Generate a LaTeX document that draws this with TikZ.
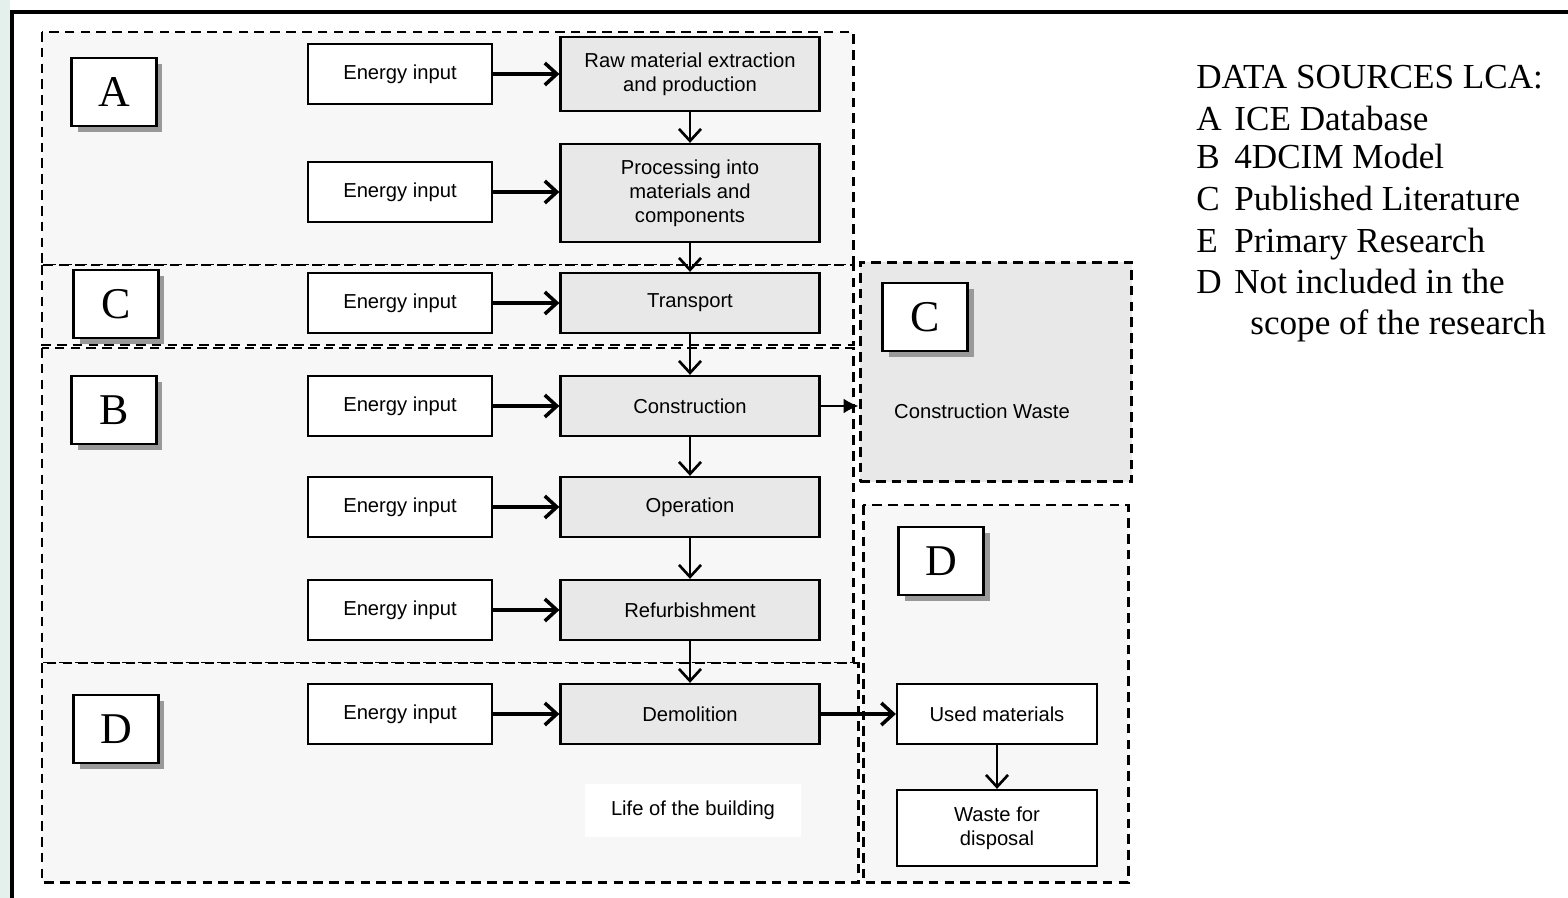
\documentclass[tikz,border=0pt]{standalone}
\usepackage{fontspec}
\setmainfont{Liberation Sans}
\newfontfamily\serifletters{Liberation Serif}
\usepackage{tikz}
\usetikzlibrary{arrows.meta, positioning, shadows}
\definecolor{zonegray}{HTML}{F7F7F7}
\definecolor{procgray}{HTML}{E8E8E8}
\definecolor{tint}{HTML}{E4F0EB}

\tikzset{
  zone/.style={draw, fill=zonegray, line width=1.7pt, dash pattern=on 5.5pt off 3.5pt},
  energybox/.style={draw, fill=white, line width=1.3pt, minimum width=3.68cm, minimum height=1.2cm, font=\fontsize{11.5}{13.6}\selectfont},
  procbox/.style={draw, fill=procgray, line width=1.3pt, minimum width=5.18cm, minimum height=1.2cm, align=center, font=\fontsize{11.5}{13.6}\selectfont},
  outbox/.style={draw, fill=white, line width=1.3pt, minimum width=4cm, minimum height=1.2cm, align=center, font=\fontsize{11.5}{13.6}\selectfont},
  letterbox/.style={draw, fill=white, line width=1.3pt, minimum width=1.7cm, minimum height=1.36cm, font=\serifletters\fontsize{25}{25}\selectfont, drop shadow={shadow xshift=0.12cm, shadow yshift=-0.12cm, fill=gray!80, opacity=1}},
  legend/.style={inner sep=0pt, font=\serifletters\fontsize{20}{23}\selectfont},
  flow/.style={-{Straight Barb[length=2.4mm, width=4.4mm]}, line width=1.5pt},
  feed/.style={flow, line width=2pt},
}

\begin{document}
\begin{tikzpicture}[x=0.02cm, y=-0.02cm]
\useasboundingbox (0,0) rectangle (1568,898);
\fill[tint] (0,0) rectangle (10,898);

% Frame
\draw[line width=2.8pt] (12,898) -- (12,12) -- (1568,12);

% Zones
\draw[zone] (42,32) rectangle (853,265);
\draw[zone] (42,265) rectangle (853,345);
\draw[zone] (42,348) rectangle (853,663);
\draw[zone] (42,663) rectangle (858,882);
\node[zone, fill=procgray, minimum width=5.44cm, minimum height=4.4cm] (cwzone) at (996,372) {};
\draw[zone] (863,505) rectangle (1128,882);

% Source letters
\node[letterbox] (keyA) at (114,92) {A};
\node[letterbox] (keyC) at (116,304) {C};
\node[letterbox] (keyB) at (114,410) {B};
\node[letterbox] (keyD) at (116,729) {D};
\node[letterbox] (keyCw) at (925,317) {C};
\node[letterbox] (keyDr) at (941,561) {D};

% Life cycle stages
\node[procbox, minimum height=1.48cm] (raw) at (690,74) {Raw material extraction\\and production};
\node[procbox, minimum height=1.96cm] (proc) at (690,193) {Processing into\\materials and\\components};
\node[procbox] (trans) at (690,303) {Transport};
\node[procbox] (constr) at (690,406) {Construction};
\node[procbox] (oper) at (690,507) {Operation};
\node[procbox] (refurb) at (690,610) {Refurbishment};
\node[procbox] (demol) at (690,714) {Demolition};

% Energy inputs
\foreach \i/\y/\p in {1/74/raw, 2/192/proc, 3/303/trans, 4/406/constr, 5/507/oper, 6/610/refurb, 7/714/demol} {
    \node[energybox] (e\i) at (400,\y) {Energy input};
    \draw[feed] (e\i.east) -- (e\i.east -| \p.west);
}

% Flow down the stages
\draw[flow] (raw) -- (proc);
\draw[flow] (proc) -- (trans);
\draw[flow] (trans) -- (constr);
\draw[flow] (constr) -- (oper);
\draw[flow] (oper) -- (refurb);
\draw[flow] (refurb) -- (demol);

% Waste
\node[font=\fontsize{11.5}{13.6}\selectfont] (cwtext) at (982,411) {Construction Waste};
\draw[-{Latex[length=3mm, width=3mm]}, line width=1.3pt] (constr.east) -- (constr.east -| cwzone.west);

\node[outbox] (used) at (997,714) {Used materials};
\node[outbox, minimum height=1.52cm] (disp) at (997,828) {Waste for\\disposal};
\draw[feed] (demol) -- (used);
\draw[flow] (used) -- (disp);

\node[fill=white, minimum width=4.34cm, minimum height=1.06cm, font=\fontsize{11.5}{13.6}\selectfont] (life) at (693,810) {Life of the building};

% Legend
\node[legend, anchor=base west] (title) at (1196,89) {DATA SOURCES LCA:};
\foreach \y/\k/\t in {131/A/ICE Database, 169/B/4DCIM Model, 211/C/Published Literature, 253/E/Primary Research, 294/D/Not included in the} {
    \node[legend, anchor=base west] (src\k) at (1196,\y) {\k};
    \node[legend, anchor=base west] (txt\k) at (1234,\y) {\t};
}
\node[legend, anchor=base west] (txtD2) at (1250,335) {scope of the research};

\end{tikzpicture}
\end{document}
